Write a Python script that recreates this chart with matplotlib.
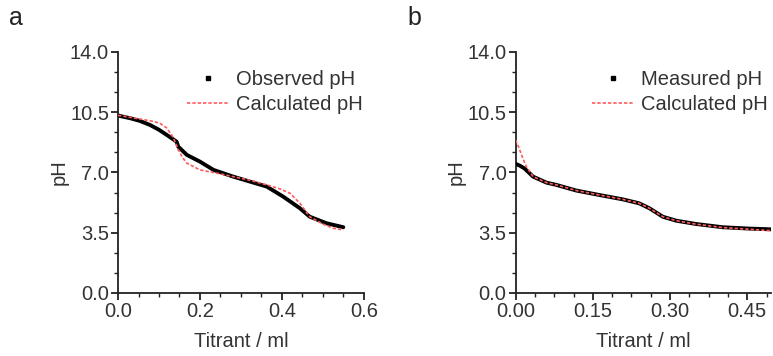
import matplotlib
matplotlib.use("Agg")
import matplotlib.pyplot as plt
from matplotlib.lines import Line2D
from matplotlib.ticker import MultipleLocator, FormatStrFormatter

plt.rcParams['font.family'] = ['Liberation Sans', 'DejaVu Sans']

# Panel a data
a_obs_x = [0.0, 0.005, 0.03, 0.054, 0.078, 0.10, 0.119, 0.143, 0.147, 0.168, 0.20, 0.233,
           0.281, 0.322, 0.363, 0.403, 0.444, 0.468, 0.509, 0.55]
a_obs_y = [10.32, 10.28, 10.15, 9.99, 9.76, 9.48, 9.18, 8.79, 8.50, 8.02, 7.63, 7.15,
           6.76, 6.47, 6.18, 5.60, 4.92, 4.43, 4.05, 3.82]
a_calc_x = [0.0, 0.03, 0.06, 0.085, 0.102, 0.118, 0.131, 0.14, 0.147, 0.158, 0.168, 0.20,
            0.241, 0.281, 0.322, 0.363, 0.395, 0.42, 0.444, 0.468, 0.50, 0.525, 0.55]
a_calc_y = [10.32, 10.2, 10.08, 9.97, 9.86, 9.6, 9.18, 8.75, 8.31, 7.85, 7.54, 7.15,
            6.96, 6.76, 6.55, 6.28, 6.05, 5.79, 5.21, 4.43, 4.0, 3.76, 3.66]

# Panel b data
b_obs_x = [0.0, 0.008, 0.017, 0.034, 0.06, 0.079, 0.118, 0.163, 0.208, 0.24, 0.26, 0.286,
           0.312, 0.35, 0.402, 0.454, 0.495]
b_obs_y = [7.50, 7.40, 7.24, 6.76, 6.41, 6.28, 5.95, 5.69, 5.44, 5.21, 4.92, 4.43,
           4.20, 4.01, 3.82, 3.74, 3.70]
b_calc_x = [0.0, 0.007, 0.014, 0.021, 0.034, 0.06, 0.079, 0.118, 0.163, 0.208, 0.24, 0.26,
            0.286, 0.312, 0.35, 0.402, 0.454, 0.495]
b_calc_y = [8.89, 8.40, 7.83, 7.34, 6.76, 6.41, 6.28, 5.95, 5.69, 5.44, 5.21, 4.92,
            4.43, 4.20, 4.00, 3.80, 3.70, 3.62]

y_ticks = [0.0, 3.5, 7.0, 10.5, 14.0]
a_x_ticks = [0.0, 0.2, 0.4, 0.6]
b_x_ticks = [0.00, 0.15, 0.30, 0.45]

FS = 14.5
RED = '#ff5a5a'

fig = plt.figure(figsize=(7.73, 3.56), dpi=100)
ax_a = fig.add_axes([0.1527, 0.177, 0.318, 0.677])
ax_b = fig.add_axes([0.667, 0.177, 0.331, 0.677])

def style(ax, xlim, xticks, xminor, xfmt, obs_label, ox, oy, cx, cy, anchor):
    ax.plot(ox, oy, color='black', lw=2.8, solid_capstyle='round', zorder=3)
    ax.plot(cx, cy, color=RED, lw=1.2, linestyle=(0, (2, 1.2)), zorder=4)
    ax.set_xlim(*xlim)
    ax.set_ylim(0, 14)
    ax.set_xticks(xticks)
    ax.set_yticks(y_ticks)
    ax.xaxis.set_minor_locator(MultipleLocator(xminor))
    ax.yaxis.set_minor_locator(MultipleLocator(3.5 / 3))
    ax.xaxis.set_major_formatter(FormatStrFormatter(xfmt))
    ax.yaxis.set_major_formatter(FormatStrFormatter('%.1f'))
    for s in ['top', 'right']:
        ax.spines[s].set_visible(False)
    for s in ['left', 'bottom']:
        ax.spines[s].set_linewidth(1.3)
        ax.spines[s].set_color('#222222')
    ax.tick_params(which='major', length=5, width=1.3, labelsize=FS, pad=1.5, colors='#222222')
    ax.tick_params(which='minor', length=3, width=1.0, colors='#222222')
    ax.tick_params(labelcolor='#333333')
    ax.set_xlabel('Titrant / ml', fontsize=FS, color='#333333', labelpad=8)
    ax.set_ylabel('pH', fontsize=FS, color='#333333', labelpad=1)
    handles = [Line2D([], [], color='black', marker='s', markersize=3, linestyle='none'),
               Line2D([], [], color=RED, lw=1.2, linestyle=(0, (2, 1.2)))]
    ax.legend(handles, [obs_label, 'Calculated pH'], loc='upper right',
              bbox_to_anchor=anchor, frameon=False, fontsize=FS,
              handlelength=2.1, handletextpad=0.35, labelspacing=0.3,
              borderpad=0.2, labelcolor='#333333')

style(ax_a, (0, 0.6), a_x_ticks, 0.05, '%.1f', 'Observed pH', a_obs_x, a_obs_y, a_calc_x, a_calc_y,
      (1.053, 0.985))
style(ax_b, (0, 0.497), b_x_ticks, 0.0375, '%.2f', 'Measured pH', b_obs_x, b_obs_y, b_calc_x, b_calc_y,
      (1.04, 0.985))

fig.text(0.012, 0.93, 'a', fontsize=18, color='#222222')
fig.text(0.527, 0.93, 'b', fontsize=18, color='#222222')

fig.savefig('out.png', dpi=100)
